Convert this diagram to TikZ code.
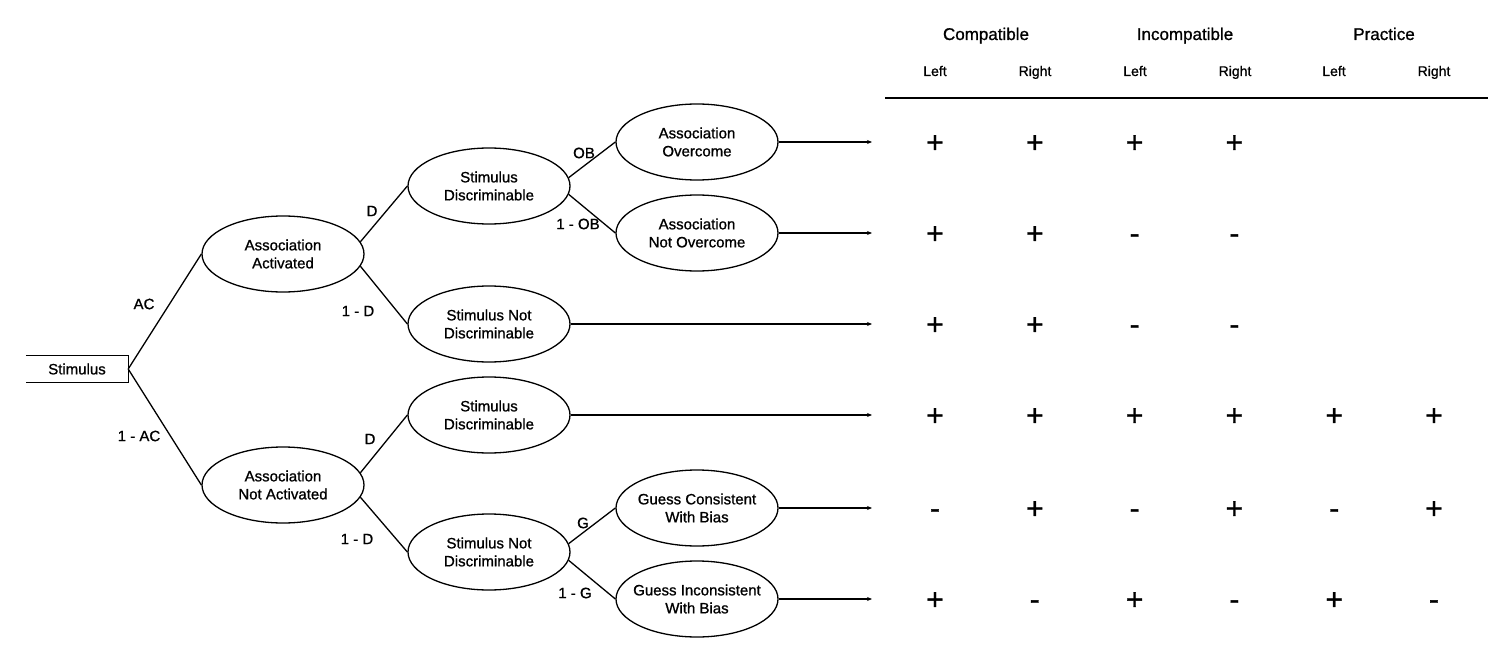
\documentclass[tikz,border=0pt]{standalone}
\usepackage{fontspec}
\setmainfont{Liberation Sans}
\newfontfamily\fb{Liberation Sans}[FakeBold=1]
\usetikzlibrary{shapes.geometric,arrows.meta}
\begin{document}
\begin{tikzpicture}[x=1pt,y=-1pt,
  every node/.style={font=\fb\fontsize{15}{18}\selectfont, inner sep=0pt},
  oval/.style={ellipse, draw, line width=1.3pt, minimum width=162pt, minimum height=76pt},
  otext/.style={align=center},
  conn/.style={line width=1.3pt},
  arr/.style={line width=1.3pt, -{Stealth[length=5pt,width=4pt]}},
  lbl/.style={font=\fb\fontsize{15}{18}\selectfont},
  hdr/.style={font=\fb\fontsize{17}{20}\selectfont, anchor=base},
  sub/.style={font=\fb\fontsize{14}{17}\selectfont, anchor=base},
  sgn/.style={font=\fb\fontsize{30}{30}\selectfont, anchor=base}
]
\useasboundingbox (0,0) rectangle (1501,647);

% stimulus box (open on the left)
\node[minimum width=102pt, minimum height=26pt] (st) at (77,369) {Stimulus};
\draw[line width=1.3pt] (st.north west) -- (st.north east) -- (st.south east) -- (st.south west);

% ellipses
\node[oval] (aa)  at (283,254) {};
\node[oval] (ana) at (283,485) {};
\node[oval] (sd1)  at (489,186) {};
\node[oval] (snd1) at (489,324) {};
\node[oval] (sd2)  at (489,415) {};
\node[oval] (snd2) at (489,552) {};
\node[oval] (ao)  at (697,142) {};
\node[oval] (ano) at (697,233) {};
\node[oval] (gc)  at (697,508) {};
\node[oval] (gi)  at (697,599) {};
\node[otext] (taa)  at (aa)  {Association\\Activated};
\node[otext] (tana) at (ana) {Association\\Not Activated};
\node[otext] (tsd1) at (sd1) {Stimulus\\Discriminable};
\node[otext] (tsnd1) at (snd1) {Stimulus Not\\Discriminable};
\node[otext] (tsd2) at (sd2) {Stimulus\\Discriminable};
\node[otext] (tsnd2) at (snd2) {Stimulus Not\\Discriminable};
\node[otext] (tao)  at (ao)  {Association\\Overcome};
\node[otext] (tano) at (ano) {Association\\Not Overcome};
\node[otext] (tgc)  at (gc)  {Guess Consistent\\With Bias};
\node[otext] (tgi)  at (gi)  {Guess Inconsistent\\With Bias};

% connectors
\draw[conn] (st.east) -- (aa.west);
\draw[conn] (st.east) -- (ana.west);
\draw[conn] (aa.9) -- (sd1.west);
\draw[conn] (aa.-9) -- (snd1.west);
\draw[conn] (ana.9) -- (sd2.west);
\draw[conn] (ana.-9) -- (snd2.west);
\draw[conn] (sd1.6) -- (ao.west);
\draw[conn] (sd1.-6) -- (ano.west);
\draw[conn] (snd2.6) -- (gc.west);
\draw[conn] (snd2.-6) -- (gi.west);

% branch labels
\node[lbl] (lac)  at (144,304) {AC};
\node[lbl] (lnac) at (139,436) {1 - AC};
\node[lbl] (ld1)  at (372,211) {D};
\node[lbl] (lnd1) at (358,311) {1 - D};
\node[lbl] (ld2)  at (370,439) {D};
\node[lbl] (lnd2) at (357,539) {1 - D};
\node[lbl] (lob)  at (584,153) {OB};
\node[lbl] (lnob) at (578,224) {1 - OB};
\node[lbl] (lg)   at (583,523) {G};
\node[lbl] (lng)  at (575,593) {1 - G};

% outcome arrows
\coordinate (e1) at (872,142);
\coordinate (e2) at (872,233);
\coordinate (e3) at (872,324);
\coordinate (e4) at (872,415);
\coordinate (e5) at (872,508);
\coordinate (e6) at (872,599);
\draw[arr] (ao.east) -- (e1);
\draw[arr] (ano.east) -- (e2);
\draw[arr] (snd1.east) -- (e3);
\draw[arr] (sd2.east) -- (e4);
\draw[arr] (gc.east) -- (e5);
\draw[arr] (gi.east) -- (e6);

% table header
\node[hdr] (hc) at (986,40) {Compatible};
\node[hdr] (hi) at (1185,40) {Incompatible};
\node[hdr] (hp) at (1384,40) {Practice};
\node[sub] (s1) at (935,76) {Left};
\node[sub] (s2) at (1035,76) {Right};
\node[sub] (s3) at (1135,76) {Left};
\node[sub] (s4) at (1235,76) {Right};
\node[sub] (s5) at (1334,76) {Left};
\node[sub] (s6) at (1434,76) {Right};
\coordinate (hl) at (885,98);
\coordinate (hr) at (1488,98);
\draw[line width=1.5pt] (hl) -- (hr);

% table entries
\foreach \r/\y/\vals in {1/142/{+,+,+,+}, 2/233/{+,+,-,-}, 3/324/{+,+,-,-},
  4/415/{+,+,+,+,+,+}, 5/508/{-,+,-,+,-,+}, 6/599/{+,-,+,-,+,-}}{
  \foreach \v [count=\c] in \vals {
    \node[sgn] (v\r-\c) at ({935+99.8*(\c-1)},\y+10.5) {\v};
  }
}
\end{tikzpicture}
\end{document}
